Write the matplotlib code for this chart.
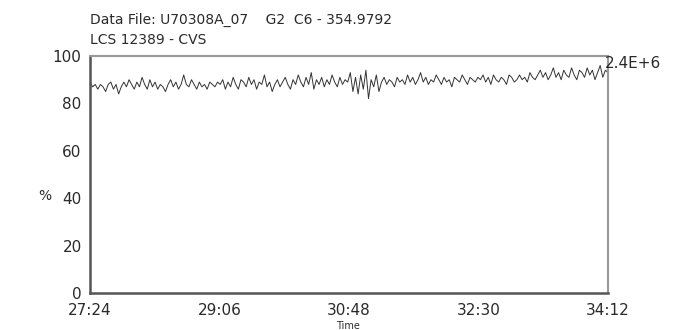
import numpy as np
import matplotlib
matplotlib.use("Agg")
import matplotlib.pyplot as plt

plt.rcParams['font.family'] = ['DejaVu Sans']

# time axis, seconds (27:24 .. 34:12)
t_start = 27 * 60 + 24
t_end = 34 * 60 + 12
tick_secs = [1644, 1746, 1848, 1950, 2052]
tick_labels = ["27:24", "29:06", "30:48", "32:30", "34:12"]
y_ticks = [0, 20, 40, 60, 80, 100]

# percent trace
pct_a = [89, 87, 88, 86, 88, 87, 85, 88, 89, 86, 88, 84, 87, 89, 87, 90, 88, 86, 89, 87,
         91, 88, 86, 90, 87, 89, 86, 88, 87, 85, 88, 90, 87, 89, 86, 88, 92, 88, 87, 90,
         88, 86, 89, 87, 88, 86, 89, 88, 87, 89]
pct_b = [88, 90, 86, 89, 87, 91, 88, 86, 90, 89, 87, 91, 88, 90, 86, 89, 88, 92, 87, 89,
         85, 88, 90, 87, 89, 91, 88, 86, 90, 88, 92, 89, 87, 91, 88, 93, 86, 90, 88, 91,
         87, 90, 88, 92, 89, 87, 91, 88, 90, 89]
pct_c = [93, 85, 91, 84, 92, 86, 94, 82, 90, 87, 92, 85, 89, 91, 88, 90, 89, 87, 91, 89,
         90, 88, 92, 89, 91, 88, 90, 93, 89, 91, 88, 90, 89, 92, 90, 88, 91, 89, 90, 87,
         91, 90, 89, 92, 90, 88, 91, 90, 89, 91]
pct_d = [90, 92, 89, 91, 88, 92, 90, 89, 91, 90, 88, 92, 91, 89, 90, 92, 90, 91, 89, 93,
         91, 90, 92, 94, 91, 93, 90, 92, 95, 91, 93, 90, 94, 92, 91, 95, 92, 90, 94, 93,
         91, 95, 92, 94, 90, 93, 96, 91, 94, 93]
pct = pct_a + pct_b + pct_c + pct_d

title1 = "Data File: U70308A_07    G2  C6 - 354.9792"
title2 = "LCS 12389 - CVS"
scale_label = "2.4E+6"

fig = plt.figure(figsize=(6.92, 3.30), dpi=100)
ax = fig.add_axes([90 / 692, 1 - 293 / 330, 518 / 692, 237 / 330])

t = np.linspace(t_start, t_end, len(pct))
ax.plot(t, pct, color="#333333", lw=0.7)

ax.set_xlim(t_start, t_end)
ax.set_ylim(0, 100)
ax.set_xticks(tick_secs)
ax.set_xticklabels(tick_labels)
ax.set_yticks(y_ticks)
ax.tick_params(length=0, labelsize=11, colors="#2a2a2a")
ax.tick_params(axis="x", pad=7)
ax.tick_params(axis="y", pad=6)
for s in ["top", "right"]:
    ax.spines[s].set_color("#999999")
    ax.spines[s].set_linewidth(1.5)
for s in ["left", "bottom"]:
    ax.spines[s].set_color("#555555")
    ax.spines[s].set_linewidth(1.8)

fig.text(90 / 692, 1 - 20 / 330, title1, fontsize=10, color="#2a2a2a", va="center")
fig.text(90 / 692, 1 - 40 / 330, title2, fontsize=10, color="#2a2a2a", va="center")
fig.text(605 / 692, 1 - 63 / 330, scale_label, fontsize=11, color="#2a2a2a", va="center")
fig.text(45 / 692, 1 - 196 / 330, "%", fontsize=10, color="#2a2a2a", ha="center", va="center")
fig.text(348 / 692, 1 - 326 / 330, "Time", fontsize=7, color="#2a2a2a", ha="center", va="center")

fig.savefig("out.png", dpi=100)
